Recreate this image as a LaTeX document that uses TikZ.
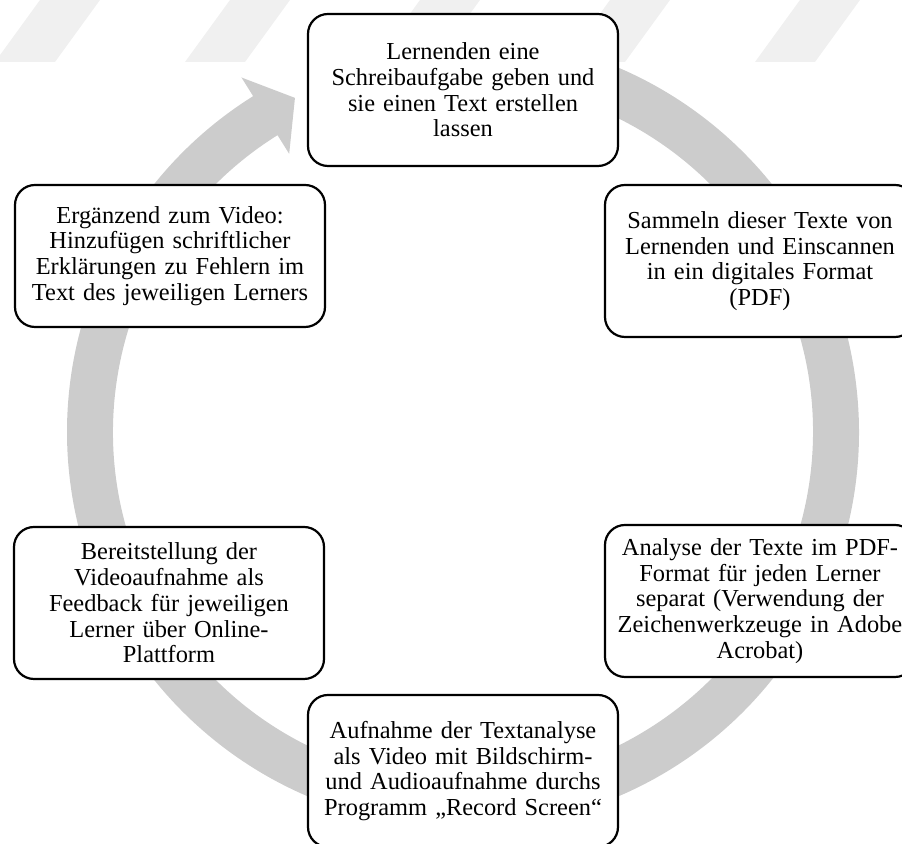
\documentclass[tikz,border=0pt]{standalone}
\usepackage{fontspec}
\setmainfont{Liberation Serif}
\usepackage{tikz}
\usetikzlibrary{calc}

\begin{document}
\begin{tikzpicture}[x=0.5pt, y=0.5pt]
    % ================= Stile =================
    \tikzset{
        % Schritt-Kasten: abgerundetes Rechteck
        stepbox/.style={draw=black, line width=1.1pt, fill=white, rounded corners=10pt, align=center,
            text width=152pt, minimum width=155pt, minimum height=76pt, inner sep=0pt,
            font=\fontsize{12.2}{12.85}\selectfont},
        % grauer Kreispfeil
        ringfill/.style={fill=black!20},
        % blasse Streifen oben
        stripe/.style={fill=black!6}
    }

    % ================= 0. Rahmen =================
    \useasboundingbox (0,0) rectangle (902,844);
    \clip (0,0) rectangle (902,844);

    % ================= 1. Streifen oben =================
    \foreach \sx in {40, 230, 420, 610, 800}
        \fill[stripe] (\sx,844) -- ++(60,0) -- ++(-45,-62) -- ++(-60,0) -- cycle;

    % ================= 2. Kreispfeil =================
    \coordinate (ctr) at (463,412);
    \begin{scope}[shift={(ctr)}]
        \fill[ringfill] (95:396) arc[start angle=95, end angle=-238, radius=396]
            -- (-238:418) -- (-243.3:374) -- (-238:328)
            -- (-238:350) arc[start angle=-238, end angle=95, radius=350] -- cycle;
    \end{scope}

    % ================= 3. Kaesten =================
    \node[stepbox] (s1) at (463,754) {Lernenden eine\\Schreibaufgabe geben und\\sie einen Text erstellen\\lassen};
    \node[stepbox] (s2) at (760,583) {Sammeln dieser Texte von\\Lernenden und Einscannen\\in ein digitales Format\\(PDF)};
    \node[stepbox] (s3) at (760,243) {Analyse der Texte im PDF-\\Format für jeden Lerner\\separat (Verwendung der\\Zeichenwerkzeuge in Adobe\\Acrobat)};
    \node[stepbox] (s4) at (463,73) {Aufnahme der Textanalyse\\als Video mit Bildschirm-\\und Audioaufnahme durchs\\Programm „Record Screen“};
    \node[stepbox] (s5) at (169,241) {Bereitstellung der\\Videoaufnahme als\\Feedback für jeweiligen\\Lerner über Online-\\Plattform};
    \node[stepbox, minimum height=71pt] (s6) at (170,588) {Ergänzend zum Video:\\Hinzufügen schriftlicher\\Erklärungen zu Fehlern im\\Text des jeweiligen Lerners};

\end{tikzpicture}
\end{document}
